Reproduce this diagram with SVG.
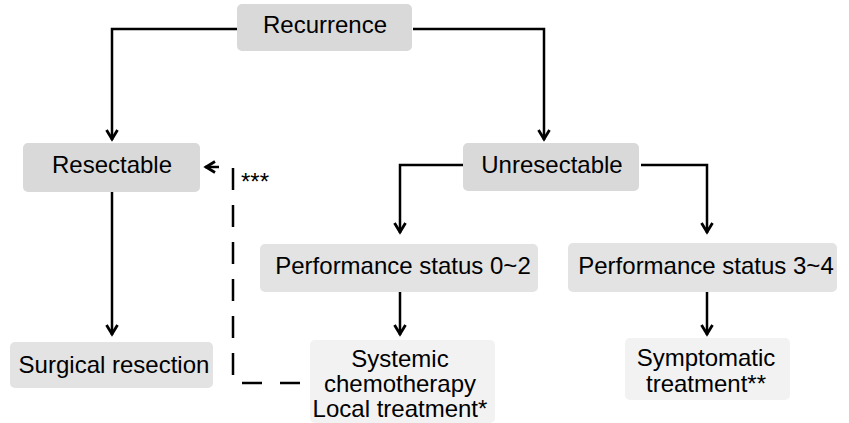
<svg xmlns="http://www.w3.org/2000/svg" width="849" height="423" viewBox="0 0 849 423">
<style>
  .box{fill:#d9d9d9;}
  .box2{fill:#e3e3e3;}
  .box3{fill:#f2f2f2;}
  text{font-family:"Liberation Sans",Arial,sans-serif;font-size:24px;fill:#000;text-anchor:middle;}
  .ln{fill:none;stroke:#000;stroke-width:2.5;}
  .dash{fill:none;stroke:#000;stroke-width:2.5;}
</style>
<defs>
  <marker id="ah" viewBox="-12 -8 14 16" refX="0" refY="0" markerWidth="14" markerHeight="16" markerUnits="userSpaceOnUse" orient="auto">
    <path d="M-10,-5.5 L-1,0 L-10,5.5" fill="none" stroke="#000" stroke-width="2.8"/>
  </marker>
</defs>
<rect width="849" height="423" fill="#fff"/>
<g id="connectors">
  <path class="ln" d="M237,29 H112 V140" marker-end="url(#ah)"/>
  <path class="ln" d="M413,29 H544 V140" marker-end="url(#ah)"/>
  <path class="ln" d="M112,192 V335" marker-end="url(#ah)"/>
  <path class="ln" d="M463,165 H400 V233" marker-end="url(#ah)"/>
  <path class="ln" d="M641,165 H707 V233" marker-end="url(#ah)"/>
  <path class="ln" d="M400,292 V335" marker-end="url(#ah)"/>
  <path class="ln" d="M707,292 V335" marker-end="url(#ah)"/>
  <path class="dash" d="M233,168 V375" stroke-dasharray="22 15"/>
  <path class="dash" d="M242,383 H301" stroke-dasharray="20 18"/>
  <path class="ln" d="M219,167 H205" marker-end="url(#ah)"/>
  <text x="241" y="190" style="text-anchor:start">***</text>
</g>
<g id="recurrence">
  <rect class="box" x="237" y="4" width="175" height="47" rx="5"/>
  <text x="325" y="33">Recurrence</text>
</g>
<g id="resectable">
  <rect class="box" x="23" y="143" width="177" height="49" rx="5"/>
  <text x="112" y="173">Resectable</text>
</g>
<g id="unresectable">
  <rect class="box" x="463" y="143" width="176" height="48" rx="5"/>
  <text x="552" y="173">Unresectable</text>
</g>
<g id="ps02">
  <rect class="box2" x="260" y="244" width="278" height="48" rx="5"/>
  <text x="403" y="274">Performance status 0~2</text>
</g>
<g id="ps34">
  <rect class="box2" x="568" y="243" width="269" height="49" rx="5"/>
  <text x="706" y="274">Performance status 3~4</text>
</g>
<g id="surgical">
  <rect class="box2" x="10" y="342" width="203" height="46" rx="5"/>
  <text x="114" y="373">Surgical resection</text>
</g>
<g id="systemic">
  <rect class="box3" x="310" y="340" width="185" height="83" rx="5"/>
  <text x="400" y="367">Systemic</text>
  <text x="400" y="392">chemotherapy</text>
  <text x="400" y="417">Local treatment*</text>
</g>
<g id="symptomatic">
  <rect class="box3" x="625" y="338" width="165" height="62" rx="5"/>
  <text x="706" y="366">Symptomatic</text>
  <text x="706" y="392">treatment**</text>
</g>
</svg>
